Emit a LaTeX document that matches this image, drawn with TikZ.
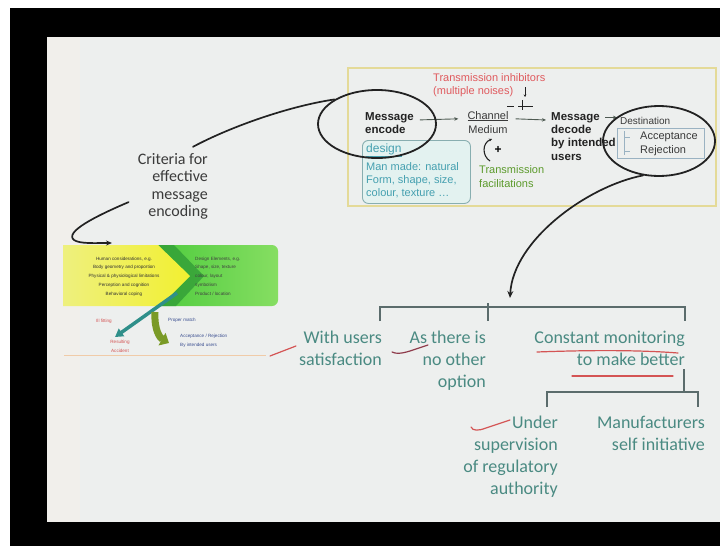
\documentclass[tikz,border=0pt]{standalone}
\usepackage{fontspec}
\setmainfont{Carlito}
\newfontfamily\arialfont{Liberation Sans}
\usetikzlibrary{arrows.meta,shapes.geometric,calc}

\definecolor{slidebg}{HTML}{EDEFEE}
\definecolor{slidestrip}{HTML}{F1EFEB}
\definecolor{frameyellow}{HTML}{E4DA98}
\definecolor{treeteal}{HTML}{4A8A82}
\definecolor{treeline}{HTML}{5B6C6C}
\definecolor{penred}{HTML}{D45454}
\definecolor{penmaroon}{HTML}{8E3A4A}
\definecolor{inkdark}{HTML}{222222}
\definecolor{greyink}{HTML}{3A3A3A}
\definecolor{noisered}{HTML}{E05A5E}
\definecolor{designteal}{HTML}{45A0B0}
\definecolor{designfill}{HTML}{E3F2F0}
\definecolor{designedge}{HTML}{88AEB0}
\definecolor{facilgreen}{HTML}{5C9A2C}
\definecolor{destblue}{HTML}{9AB2C2}
\definecolor{flowgrey}{HTML}{4E5A52}
\definecolor{chevyellowA}{HTML}{EEF07E}
\definecolor{chevyellowB}{HTML}{F2F030}
\definecolor{blockgreenA}{HTML}{4CCB3C}
\definecolor{blockgreenB}{HTML}{86DE62}
\definecolor{bandgreen}{HTML}{2F9A36}
\definecolor{arrowteal}{HTML}{2F8F8A}
\definecolor{arrowolive}{HTML}{7A9A26}
\definecolor{rulepeach}{HTML}{F0CBA8}
\definecolor{tinyblue}{HTML}{3A4E90}

\tikzset{
  pen/.style={draw=inkdark, line width=1.7pt, line cap=round},
  ring/.style={ellipse, draw=inkdark, line width=1.8pt, inner sep=0pt},
  opttext/.style={font=\fontsize{18}{22}\selectfont, text=treeteal, align=right, inner sep=0pt, anchor=base east},
  treeln/.style={draw=treeline, line width=1.4pt},
  boxtext/.style={font=\arialfont\fontsize{11}{13}\selectfont, inner sep=0pt},
  boldtext/.style={font=\arialfont\bfseries\fontsize{11.5}{13.3}\selectfont, inner sep=0pt, text=inkdark},
  redmark/.style={draw=penred, line width=1.2pt, line cap=round},
  tinytext/.style={font=\arialfont\fontsize{4.6}{8.7}\selectfont, inner sep=0pt},
  flow/.style={draw=flowgrey, line width=0.9pt, -{Stealth[length=4pt,width=3.5pt]}},
}

\begin{document}
\begin{tikzpicture}[x=1pt,y=-1pt]
\useasboundingbox (0,0) rectangle (720,546);
\fill[white] (0,0) rectangle (720,546);
\fill[black] (10,8) rectangle (720,546);
\fill[slidebg] (47,37) rectangle (720,522);
\fill[slidestrip] (47,37) rectangle (80,522);

% ---------- communication model frame ----------
\draw[draw=frameyellow, line width=1.8pt] (348,68) rectangle (716,206);

% (multi-line nodes are placed by the baseline of their last line)
\node[boxtext, text=noisered, align=left, anchor=base west] (inhib) at (433,94)
  {Transmission inhibitors\\(multiple noises)};
% noise symbol
\draw[inkdark, line width=0.8pt, -{Stealth[length=2.5pt,width=2.5pt]}] (525,87) -- (525,97);
\draw[inkdark, line width=0.8pt] (507,106) -- (514,106) (518,106) -- (533,106) (522,100) -- (522,110);

\node[boldtext, align=left, anchor=base west] (encode) at (365,133.3) {Message\\encode};
\node[boxtext, text=greyink, align=center, anchor=base] (channel) at (488,133) {\underline{Channel}\\[1pt]Medium};
\node[boldtext, align=left, anchor=base west] (decode) at (551,160) {Message\\decode\\by intended\\users};
\node[boxtext, font=\arialfont\fontsize{10}{12}\selectfont, text=greyink, anchor=base west] (dest) at (620,124) {Destination};
\draw[destblue, line width=0.7pt] (617,128) rectangle (704,158);
\node[boxtext, text=greyink, anchor=base west] (accept) at (640,139) {Acceptance};
\node[boxtext, text=greyink, anchor=base west] (reject) at (640,153) {Rejection};
\draw[destblue, line width=0.9pt] (624,131) -- (624,155) (624,137) -- (630,137) (624,151) -- (630,151);

\draw[flow] ($(encode.north east)+(6,8)$) -- ($(channel.north west)+(-9,8)$);
\draw[flow] ($(channel.north east)+(7,8)$) -- ($(decode.north west)+(-5,8)$);
\draw[flow] ($(dest.west)+(-15,-3)$) -- ($(dest.west)+(-3,-3)$);

\node[draw=designedge, fill=designfill, rounded corners=6pt, line width=0.9pt,
      minimum width=108pt, minimum height=63pt, anchor=north west, inner sep=0pt] (designbox) at (362,140) {};
\node[boxtext, font=\arialfont\fontsize{12}{13}\selectfont, text=designteal, anchor=base west] (designhead) at (366,152) {\underline{design}};
\node[boxtext, text=designteal, align=left, anchor=base west] (designbody) at (366,196)
  {Man made: natural\\Form, shape, size,\\colour, texture \ldots};

\draw[inkdark, line width=1.1pt, -{Stealth[length=3pt,width=3pt]}] (490,161) .. controls (482,156) and (482,143) .. (492,139);
\node[boxtext, font=\arialfont\bfseries\fontsize{12}{13}\selectfont] (plus) at (498,150) {+};
\node[boxtext, text=facilgreen, font=\arialfont\fontsize{11}{14}\selectfont, align=left, anchor=base west] (facil) at (479,187)
  {Transmission\\facilitations};

% ---------- design / human factors panel ----------
\shade[left color=blockgreenA, right color=blockgreenB, rounded corners=6pt] (150,245) rectangle (278,306);
\fill[bandgreen, opacity=0.75] (158,245) -- (174,245) -- (204,276) -- (176,306) -- (160,306) -- (190,276) -- cycle;
\shade[left color=chevyellowA, right color=chevyellowB] (63,245) -- (158,245) -- (190,276) -- (160,306) -- (63,306) -- cycle;
\node[tinytext, text=black!80, align=center, anchor=base] (human) at (124,295)
  {Human considerations, e.g.\\Body geometry and proportion\\Physical \& physiological limitations\\Perception and cognition\\Behavioral coping};
\node[tinytext, text=black!75, align=left, anchor=base west] (elements) at (195,295)
  {Design Elements, e.g.\\Shape, size, texture\\colour, layout\\symbolism\\Product / location};
\draw[arrowteal, line width=3.5pt, -{Triangle[width=9pt,length=8pt]}] (177,293) -- (115,337);
\draw[arrowolive, line width=7pt, -{Triangle[width=14pt,length=8pt]}] (155,312) .. controls (154,330) and (160,338) .. (169,343);
\node[tinytext, text=penred, anchor=base west] (illfit) at (96,322) {Ill fitting};
\node[tinytext, text=penred, align=center, anchor=base] (accident) at (120,352) {Resulting\\Accident};
\node[tinytext, text=tinyblue, anchor=base west] (proper) at (168,321) {Proper match};
\node[tinytext, text=tinyblue, align=left, anchor=base west] (verdict) at (180,346) {Acceptance / Rejection\\By intended users};
\draw[rulepeach, line width=0.8pt] (64,355) -- (266,355);

% ---------- criteria note ----------
\node[font=\fontsize{16}{17.5}\selectfont, text=greyink, align=right, inner sep=0pt, anchor=base east] (crit) at (208,216.5)
  {Criteria for\\effective\\message\\encoding};

% ---------- hand-drawn rings and links ----------
\node[ring, minimum width=118pt, minimum height=68pt] (encring) at (377,124) {};
\node[ring, minimum width=112pt, minimum height=70pt] (destring) at (659,141) {};
\coordinate (paneltop) at (112,243);
\coordinate (hubtop) at (510,298);
\draw[pen] ([xshift=-15pt,yshift=6pt]crit.north east) .. controls (232,126) and (290,106) .. (encring.150);
\draw[pen, -{Stealth[length=6pt,width=5pt]}] ([xshift=-9pt,yshift=-16pt]crit.west)
  .. controls (96,216) and (64,232) .. (74,240) .. controls (80,244) and (95,243) .. (paneltop);
\draw[pen, -{Stealth[length=7pt,width=6pt]}] (destring.245) .. controls (588,186) and (513,240) .. (hubtop);

% ---------- outcome tree ----------
\node[opttext] (opt1) at (382,365) {With users\\satisfaction};
\node[opttext] (opt2) at (486,387) {As there is\\no other\\option};
\node[opttext] (opt3) at (685,365) {Constant monitoring\\to make better};
\node[opttext] (sub1) at (558,494) {Under\\supervision\\of regulatory\\authority};
\node[opttext] (sub2) at (705,450) {Manufacturers\\self initiative};

\coordinate (hub) at (510,307);
\coordinate (subhub) at (684,392);
\draw[treeln] (380,321) -- (380,307) -- (685,307) -- (685,321);
\draw[treeln] (488,303) -- (488,321);
\draw[treeln] (684,369) -- (subhub);
\draw[treeln] (547,407) -- (547,392) -- (698,392) -- (698,407);

% pen marks
\draw[redmark] (270,356) -- (296,346);
\draw[draw=penmaroon, line width=1.2pt, line cap=round] (392,352) .. controls (400,356) and (412,350) .. (428,345);
\draw[redmark] (537,352) .. controls (590,350) and (640,350) .. (678,353);
\draw[redmark] (572,376) -- (673,376);
\draw[redmark] (471,427) .. controls (473,431) and (478,431) .. (486,428) -- (510,420);
\end{tikzpicture}
\end{document}
